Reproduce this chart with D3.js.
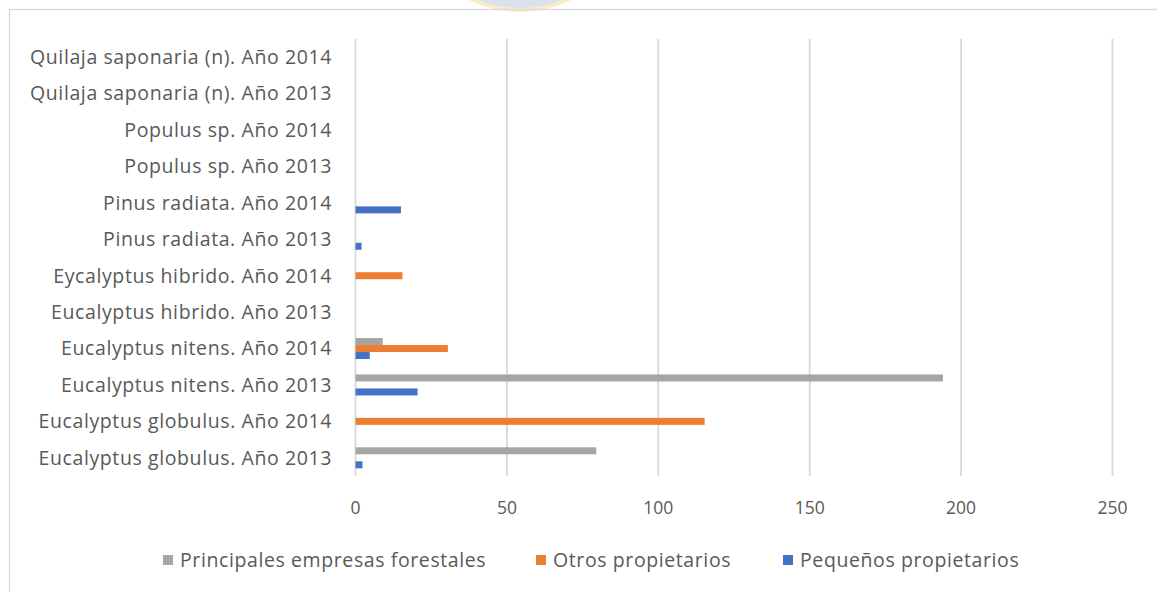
<!DOCTYPE html>
<html>
<head>
<meta charset="utf-8">
<script src="https://cdn.jsdelivr.net/npm/d3@7"></script>
<style>
  body { margin: 0; background: #fff; }
  text { font-family: "Open Sans", "Noto Sans", sans-serif; fill: #595959; }
</style>
</head>
<body>
<div id="chart"></div>
<script>
// categories listed bottom to top
const categories = [
    "Eucalyptus globulus. Año 2013",
    "Eucalyptus globulus. Año 2014",
    "Eucalyptus nitens. Año 2013",
    "Eucalyptus nitens. Año 2014",
    "Eucalyptus hibrido. Año 2013",
    "Eycalyptus hibrido. Año 2014",
    "Pinus radiata. Año 2013",
    "Pinus radiata. Año 2014",
    "Populus sp. Año 2013",
    "Populus sp. Año 2014",
    "Quilaja saponaria (n). Año 2013",
    "Quilaja saponaria (n). Año 2014"
]
const seriesNames = ["Principales empresas forestales", "Otros propietarios", "Pequeños propietarios"]
const principales = [79.5, 0, 194, 9, 0, 0, 0, 0, 0, 0, 0, 0]
const otros = [0, 115.3, 0, 30.5, 0, 15.5, 0, 0, 0, 0, 0, 0]
const pequenos = [2.3, 0, 20.5, 4.7, 0, 0, 2, 15, 0, 0, 0, 0]
const xTicks = [0, 50, 100, 150, 200, 250]
const colors = ["#A5A5A5", "#ED7D31", "#4472C4"]

const width = 1157, height = 592
const margin = { left: 355.5, right: 1112.5, top: 39, bottom: 476 }

const svg = d3.select("#chart").append("svg")
    .attr("width", width)
    .attr("height", height)

// faint watermark peeking in at the top
svg.append("circle")
    .attr("cx", 520).attr("cy", -104).attr("r", 114)
    .attr("fill", "#dae1ec")
    .attr("stroke", "#fcebc8").attr("stroke-width", 4)

// chart border
svg.append("rect")
    .attr("x", 9.5).attr("y", 9.5)
    .attr("width", 1170).attr("height", 620)
    .attr("fill", "none")
    .attr("stroke", "#d9d9d9").attr("stroke-width", 1.3)

const x = d3.scaleLinear().domain([0, 250]).range([margin.left, margin.right])

const y = d3.scaleBand()
    .domain(categories)
    .range([margin.bottom, margin.top])
    .paddingInner(0.424)
    .paddingOuter(0.212)

const ySub = d3.scaleBand()
    .domain(seriesNames)
    .range([0, y.bandwidth()])

// gridlines
svg.append("g")
    .selectAll("line")
    .data(xTicks)
    .join("line")
    .attr("x1", d => x(d)).attr("x2", d => x(d))
    .attr("y1", margin.top).attr("y2", margin.bottom)
    .attr("stroke", "#d9d9d9")
    .attr("stroke-width", 1.8)

// tick labels
svg.append("g")
    .selectAll("text")
    .data(xTicks)
    .join("text")
    .attr("x", d => x(d))
    .attr("y", 508)
    .attr("dy", "0.35em")
    .attr("text-anchor", "middle")
    .style("font-size", "17.5px")
    .text(d => d)

// category labels
svg.append("g")
    .selectAll("text")
    .data(categories)
    .join("text")
    .attr("x", 332)
    .attr("y", d => y(d) + y.bandwidth() / 2)
    .attr("dy", "0.35em")
    .attr("text-anchor", "end")
    .style("font-size", "19.5px")
    .style("letter-spacing", "0.6px")
    .text(d => d)

// bars
const seriesValues = [principales, otros, pequenos]
const rows = []
seriesValues.forEach((vals, s) => {
    vals.forEach((v, i) => {
        rows.push({ cat: categories[i], series: seriesNames[s], value: v, color: colors[s] })
    })
})

svg.append("g")
    .selectAll("rect")
    .data(rows.filter(d => d.value > 0))
    .join("rect")
    .attr("x", x(0))
    .attr("y", d => y(d.cat) + ySub(d.series))
    .attr("width", d => x(d.value) - x(0))
    .attr("height", ySub.bandwidth())
    .attr("fill", d => d.color)

// legend
const legendX = [163, 536, 783]
const legend = svg.append("g")
    .selectAll("g")
    .data(seriesNames)
    .join("g")
    .attr("transform", (d, i) => `translate(${legendX[i]},560)`)

legend.append("rect")
    .attr("x", 0).attr("y", -5)
    .attr("width", 10).attr("height", 10)
    .attr("fill", (d, i) => colors[i])

legend.append("text")
    .attr("x", 17)
    .attr("y", 0)
    .attr("dy", "0.35em")
    .style("font-size", "19.5px")
    .style("letter-spacing", "0.6px")
    .text(d => d)
</script>
</body>
</html>
